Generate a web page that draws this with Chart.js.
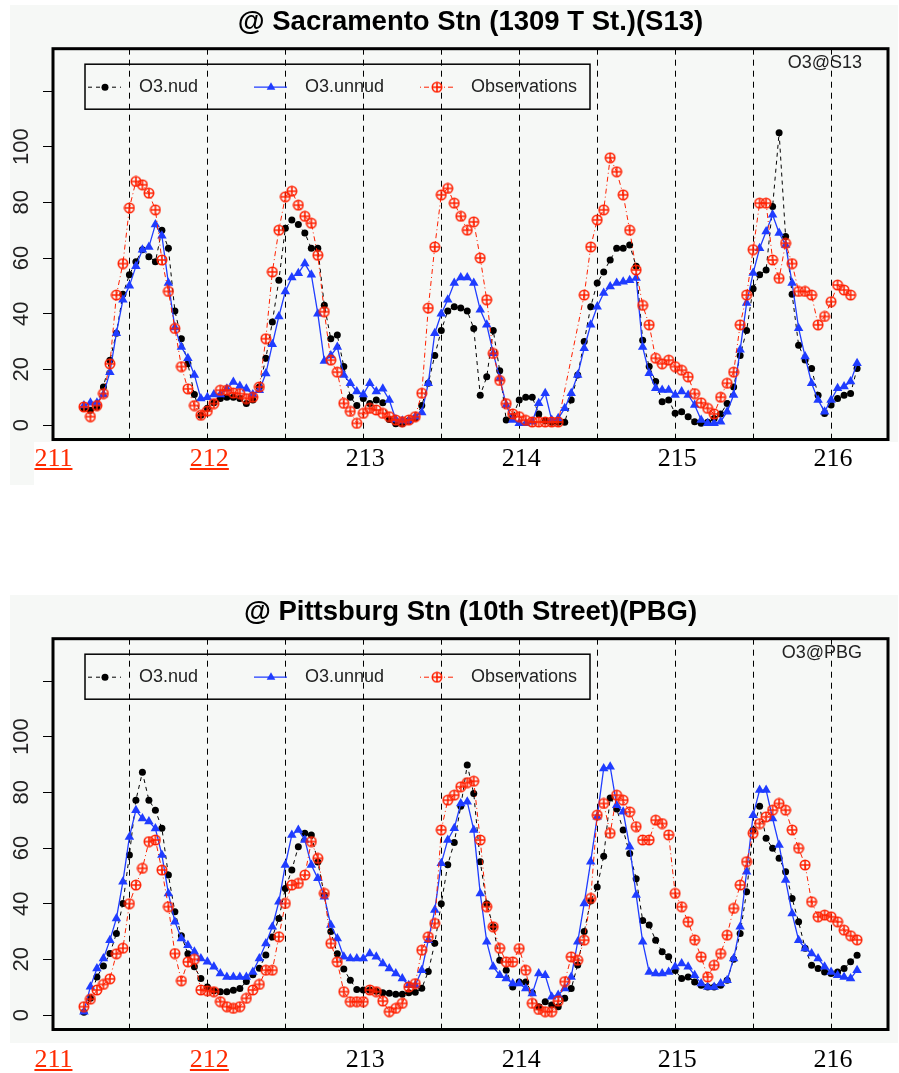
<!DOCTYPE html>
<html>
<head>
<meta charset="utf-8">
<title>O3 nudged vs unnudged</title>
<script src="https://cdn.jsdelivr.net/npm/chart.js@4/dist/chart.umd.min.js"></script>
<style>
  body { margin: 0; background: #fff; }
  .panel { position: absolute; left: 0; }
  .days { position: absolute; background: #fff; font-family: 'Liberation Serif', 'Times New Roman', serif; font-size: 26px; line-height: 30px; }
  .days span { position: absolute; top: 1px; transform: translateX(-50%); color: #000; }
  .days span.link { color: #ff2a00; text-decoration: underline; }
</style>
</head>
<body>
<canvas id="top" class="panel" width="899" height="490" style="top:0"></canvas>
<div id="topDays" class="days" style="left:34px; top:442px; width:865px; height:48px"></div>
<canvas id="bottom" class="panel" width="899" height="490" style="top:590px"></canvas>
<div id="bottomDays" class="days" style="left:0; top:1043px; width:899px; height:30px"></div>
<script>
// hourly values, julian day 211 05h .. 216 04h
const startDay = 211
const startHour = 5
const hours = []
for (let i = 0; i < 120; i++) hours.push(startDay + (startHour + i) / 24)

const dayLines = [211.5, 212, 212.5, 213, 213.5, 214, 214.5, 215, 215.5, 216]
const dayLabels = [211, 212, 213, 214, 215, 216]
const linkedDays = [211, 212]
const yTicks = [0, 20, 40, 60, 80, 100, 120]

// Sacramento (S13)
const s13Nud = [6, 5.3, 6.5, 13.7, 23.3, 33, 47, 54, 58.7, 63,
  60.5, 58.7, 70, 63.5, 41, 31, 22, 11, 3.5, 6,
  8, 9.5, 10, 10, 9.5, 7.7, 9, 13.7, 24, 37,
  52, 70.7, 73.7, 72, 69, 63.5, 63.5, 43, 31, 32.3,
  21, 10, 7, 9.5, 7.7, 9, 8, 2, 0.5, 0.5,
  1.5, 2.5, 7, 15, 25, 34, 41, 42.5, 42, 41,
  34.7, 10.7, 17.3, 34, 19.5, 1.8, 3, 9, 10, 10,
  4, 1.5, 1, 1, 1, 9, 18, 30, 42.5, 51,
  55, 59.3, 63.5, 63.5, 64.7, 57, 30.5, 21, 15.6, 8.4,
  9, 4.2, 4.8, 3, 1.2, 0.6, 1, 2.3, 4, 7.7,
  13.7, 25, 34, 49, 54, 55.7, 78.5, 105, 67.7, 47,
  28.7, 23.4, 20.3, 10.7, 4.1, 7.2, 9.5, 10.7, 11.3, 20.3]
const s13Unnud = [7, 8, 8, 11, 19, 33, 45, 50, 57, 63,
  64, 72, 68, 51, 35, 28, 24, 18, 9.5, 10,
  11, 11, 13, 15.5, 14, 13, 11, 12.5, 18.5, 29,
  39, 48, 53, 54.5, 58, 54, 40, 23, 25, 28,
  18, 15, 12, 11, 15, 12, 13, 9, 2, 1.5,
  1.5, 3, 4.5, 15, 33, 40, 45, 51, 53, 53,
  51, 41.4, 36, 25.8, 16.8, 7.2, 1.8, 0.6, 0.6, 1.2,
  7.8, 11.4, 1.8, 2.4, 6, 11.4, 18, 27.6, 36, 42.5,
  47.4, 49.8, 51, 51.5, 52, 52.8, 28, 18.6, 13.2, 12.6,
  12.6, 10.8, 12, 10.8, 7.2, 1.8, 0.6, 0.6, 1.2, 4.8,
  10.8, 27, 43.8, 54.6, 63.5, 69.5, 75.5, 69, 64.7, 51,
  34.8, 24.6, 15, 9, 4.8, 9, 13.2, 13.8, 15.6, 22.2]
const s13Obs = [6.5, 3, 7, 11.3, 22, 46.7, 58, 78, 87.5, 86.3,
  83.3, 77.3, 59.3, 48, 34.7, 21, 13, 7, 3.5, 5,
  7.7, 12.5, 12.5, 11.5, 11.3, 9.5, 10, 13.7, 31, 55,
  70, 82, 84, 79, 75, 72.5, 61, 40.7, 23.3, 19,
  7.8, 4.9, 0.6, 4.2, 6, 5.4, 4.2, 3, 1.8, 1.2,
  1.8, 3, 11.4, 42, 64, 82.7, 85, 79.7, 75, 70,
  73, 60, 45, 25.7, 16, 7.7, 4, 3, 1.7, 1.1,
  1.1, 1.1, 1.1, 1.1, null, null, null, 46.7, 64, 73.7,
  77.3, 96, 91, 82.7, 70, 55.7, 43, 36, 24, 22,
  23.3, 21, 19.7, 17.3, 11.3, 8, 6, 4, 10, 15,
  19, 36, 46.7, 63, 79.7, 79.7, 59.3, 52.7, 65.3, 58,
  48, 48, 46.7, 36, 39, 44.3, 50.3, 48.5, 46.7, null]

// Pittsburg (PBG)
const pbgNud = [1, 6, 13.7, 17.6, 22.1, 29.3, 40.1, 57.5, 77.2, 87.2,
  77.2, 73.6, 67.1, 50.3, 37.1, 28.5, 22, 17.3, 13.1, 10.1,
  8.7, 8.4, 8.4, 8.9, 9.5, 12, 14.5, 16.8, 21.6, 28,
  34.7, 45.5, 52.1, 60.5, 65.3, 64.7, 55, 43, 30, 22,
  16.5, 12.5, 9.2, 9, 9, 8.5, 8, 7.8, 7.5, 7.5,
  8, 8.2, 9.6, 15.6, 25.8, 40, 54, 62, 75, 89.8,
  79.6, 55.1, 40, 31.7, 19.7, 16.1, 10.1, 11.9, 11.9, 8,
  3, 4.8, 3.6, 3, 6, 9.5, 18, 30, 41, 46,
  57, 78, 74, 66.5, 58, 49, 34, 32.3, 26.9, 22.7,
  20.9, 16, 13.1, 13.7, 11.9, 10.7, 10.1, 10.1, 10.7, 12.5,
  20, 29.3, 44.3, 66.5, 75, 63.5, 59.9, 56.3, 51.5, 41.9,
  33.5, 24, 17.9, 16.7, 15.5, 14.9, 15.5, 16.7, 19.1, 21.5]
const pbgUnnud = [1.2, 10.2, 16.7, 20.3, 26.9, 34.7, 47.9, 64, 73.6, 70.6,
  69.5, 67, 57.5, 43.7, 33.5, 27.5, 25.1, 22.7, 20.3, 19.1,
  17.3, 14.9, 13.7, 13.7, 13.7, 13.7, 15.5, 20.3, 25.7, 31.7,
  40.7, 53.9, 64.7, 66.5, 62.9, 53.9, 49.1, 42.5, 32.3, 27.5,
  20.9, 20.3, 20.3, 20.3, 22.1, 20.9, 18.5, 16.7, 14.9, 13.1,
  10.7, 10.7, 16.1, 26.9, 37.7, 54.5, 62.9, 67.1, 76, 76.6,
  66.5, 43.7, 26.3, 17.3, 14.3, 13.1, 11.3, 11.3, 9.5, 7.7,
  14.9, 14.3, 6.6, 7.2, 9.5, 13.7, 26.3, 40.1, 55.1, 71.2,
  88.6, 89.2, 75.4, 73, 60.5, 43.1, 26.3, 15.5, 14.9, 14.9,
  15.5, 17.3, 18.5, 17.3, 14.3, 11.3, 10.1, 10.1, 11.3, 12.5,
  20.3, 31.7, 51.5, 71.8, 80.8, 80.8, 70.6, 61.1, 48.5, 36.5,
  26.9, 23.9, 22.1, 20.3, 17.3, 15.5, 14.3, 13.7, 13.1, 16.1]
const pbgObs = [3, 5.7, 9, 11, 13, 22, 24, 40, 46.7, 52.7,
  62.3, 62.9, 52.1, 38.9, 22.1, 12.3, 19.1, 20, 9, 8.7,
  8.4, 4.8, 3, 2.4, 3, 6, 9, 11, 16.1, 16.1,
  28.1, 40.1, 46.7, 47.3, 50.3, 62.3, 56.3, 43.7, 25.7, 19.1,
  8.4, 4.8, 4.8, 4.8, 9, 8.4, 5, 1.2, 2.4, 4.2,
  10.1, 11.3, 23.3, 28.1, 32.9, 66.5, 77.2, 79, 82, 83.5,
  84, 62.9, 38.9, 31.7, 24, 19.1, 19.1, 23.9, 16.1, 4.2,
  2, 1.2, 1.2, 5, 12, 20.9, 19.7, 26.9, 41.9, 71.8,
  76, 65.3, 79, 77.2, 73, 67.7, 62.9, 62.9, 70, 68.8,
  64.7, 43.7, 38.9, 33.5, 27, 20.9, 13.7, 17.9, 22.1, 28.7,
  38.3, 46.7, 55.1, 65.3, 68.8, 71.2, 73.6, 76, 73.6, 66.5,
  59.9, 53.9, 40.7, 35.3, 35.9, 35.3, 33.5, 30.5, 28.5, 27]

const black = '#000000'
const blue = '#1f3cff'
const red = '#ff2000'
const plotBg = '#f6f8f6'
const sans = '"Liberation Sans", Arial, sans-serif'

// R pch=10 style marker, circle with a plus
function circlePlus(color) {
  const c = document.createElement('canvas')
  c.width = 12
  c.height = 12
  const ctx = c.getContext('2d')
  ctx.strokeStyle = color
  ctx.lineWidth = 1.6
  ctx.beginPath()
  ctx.arc(6, 6, 4.7, 0, Math.PI * 2)
  ctx.stroke()
  ctx.beginPath()
  ctx.moveTo(6, 1.2)
  ctx.lineTo(6, 10.8)
  ctx.moveTo(1.2, 6)
  ctx.lineTo(10.8, 6)
  ctx.stroke()
  return c
}
const obsMark = circlePlus(red)

const series = [
  { label: 'O3.nud', color: black, dash: [4, 4], width: 1, mark: 'circle', radius: 3.5, order: 3 },
  { label: 'O3.unnud', color: blue, dash: [], width: 1.3, mark: 'triangle', radius: 5.5, order: 2 },
  { label: 'Observations', color: red, dash: [1, 3, 5, 3], width: 1, mark: obsMark, radius: 5, order: 1 },
]

function drawMark(ctx, mark, color, x, y, r) {
  ctx.save()
  ctx.fillStyle = color
  if (mark === 'circle') {
    ctx.beginPath()
    ctx.arc(x, y, r, 0, Math.PI * 2)
    ctx.fill()
  } else if (mark === 'triangle') {
    ctx.beginPath()
    ctx.moveTo(x, y - r)
    ctx.lineTo(x + r * 0.866, y + r * 0.5)
    ctx.lineTo(x - r * 0.866, y + r * 0.5)
    ctx.closePath()
    ctx.fill()
  } else {
    ctx.drawImage(mark, x - mark.width / 2, y - mark.height / 2)
  }
  ctx.restore()
}

// light grey picture background, the R device colour
const backdrop = {
  id: 'backdrop',
  beforeDraw(chart) {
    const ctx = chart.ctx
    ctx.save()
    ctx.fillStyle = plotBg
    ctx.fillRect(10, 5, 888, 480)
    ctx.restore()
  }
}

// box round the plot, the horizontal legend and the station tag
const rLegend = {
  id: 'rLegend',
  afterDraw(chart, args, opts) {
    const ctx = chart.ctx
    const area = chart.chartArea
    ctx.save()
    ctx.strokeStyle = '#000'
    ctx.lineWidth = 3
    ctx.strokeRect(area.left, area.top, area.right - area.left, area.bottom - area.top)

    const left = area.left + 32
    const top = area.top + 15.5
    const colW = 166
    ctx.lineWidth = 1.5
    ctx.strokeRect(left, top, colW * 3 + 7, 45)

    ctx.font = '18px ' + sans
    ctx.textBaseline = 'middle'
    const cy = top + 23
    series.forEach((s, i) => {
      const x0 = left + 3 + i * colW
      ctx.strokeStyle = s.color
      ctx.lineWidth = s.width
      ctx.setLineDash(s.dash)
      ctx.beginPath()
      ctx.moveTo(x0, cy)
      ctx.lineTo(x0 + 33, cy)
      ctx.stroke()
      ctx.setLineDash([])
      drawMark(ctx, s.mark, s.color, x0 + 17, cy, s.mark === 'triangle' ? 5 : 3.5)
      ctx.fillStyle = '#222'
      ctx.textAlign = 'left'
      ctx.fillText(s.label, x0 + 51, cy)
    })

    ctx.textAlign = 'right'
    ctx.fillStyle = '#222'
    ctx.fillText(opts.tag, area.right - 26, area.top + 14)
    ctx.restore()
  }
}

function makeChart(id, title, tag, values) {
  const datasets = series.map((s, k) => ({
    label: s.label,
    data: hours.map((h, i) => ({ x: h, y: values[k][i] })),
    borderColor: s.color,
    borderWidth: s.width,
    borderDash: s.dash,
    pointStyle: s.mark,
    pointRadius: s.radius,
    pointBackgroundColor: s.color,
    pointBorderColor: s.color,
    pointBorderWidth: 0,
    spanGaps: true,
    order: s.order,
  }))

  return new Chart(document.getElementById(id), {
    type: 'line',
    data: { datasets },
    plugins: [backdrop, rLegend],
    options: {
      responsive: false,
      animation: false,
      events: [],
      layout: { padding: { left: 0, right: 11, top: 0, bottom: 50.5 } },
      plugins: {
        legend: { display: false },
        tooltip: { enabled: false },
        rLegend: { tag },
        title: {
          display: true,
          fullSize: false,
          text: title,
          color: '#000',
          font: { family: sans, size: 27.5, weight: 'bold' },
          padding: { top: 5.5, bottom: 10.2 },
        },
      },
      scales: {
        x: {
          type: 'linear',
          min: 211.01,
          max: 216.365,
          afterBuildTicks: scale => { scale.ticks = dayLines.map(v => ({ value: v })) },
          afterFit: scale => { scale.height = 0 },
          ticks: { display: false },
          grid: { color: '#000', lineWidth: 1, drawTicks: false },
          border: { display: false, dash: [6, 5] },
        },
        y: {
          min: -5.2,
          max: 135.2,
          afterBuildTicks: scale => { scale.ticks = yTicks.map(v => ({ value: v })) },
          afterFit: scale => { scale.width = 53 },
          ticks: {
            autoSkip: false,
            minRotation: 90,
            maxRotation: 90,
            crossAlign: 'center',
            padding: 3,
            color: '#222',
            font: { family: sans, size: 22 },
            callback: v => v <= 100 ? v : '',
          },
          grid: { drawOnChartArea: false, drawTicks: true, tickLength: 10, color: '#000' },
          border: { display: false },
        },
      },
    },
  })
}

function writeDays(chart, boxId) {
  const box = document.getElementById(boxId)
  const offset = box.offsetLeft
  dayLabels.forEach(d => {
    const span = document.createElement('span')
    span.textContent = d
    if (linkedDays.includes(d)) span.className = 'link'
    span.style.left = (chart.scales.x.getPixelForValue(d) + 2 - offset) + 'px'
    box.append(span)
  })
}

const topChart = makeChart('top', '@ Sacramento Stn (1309 T St.)(S13)', 'O3@S13', [s13Nud, s13Unnud, s13Obs])
const bottomChart = makeChart('bottom', '@ Pittsburg Stn (10th Street)(PBG)', 'O3@PBG', [pbgNud, pbgUnnud, pbgObs])
writeDays(topChart, 'topDays')
writeDays(bottomChart, 'bottomDays')
</script>
</body>
</html>
